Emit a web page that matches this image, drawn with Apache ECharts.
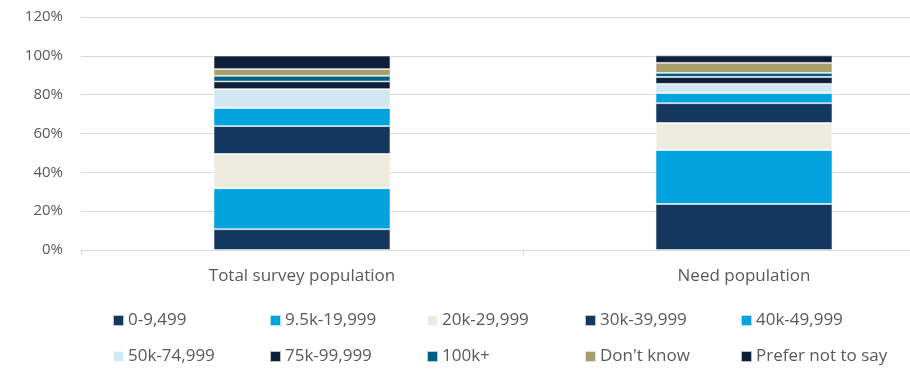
<!DOCTYPE html>
<html>
<head>
<meta charset="utf-8">
<script src="https://cdn.jsdelivr.net/npm/echarts@6/dist/echarts.min.js"></script>
<style>
  html, body { margin: 0; padding: 0; background: #fff; }
  #chart { width: 910px; height: 369px; }
</style>
</head>
<body>
<div id="chart"></div>
<script>
// Household income bands, share of respondents (%)
const categories = ['Total survey population', 'Need population'];
const bands = ['0-9,499', '9.5k-19,999', '20k-29,999', '30k-39,999', '40k-49,999',
               '50k-74,999', '75k-99,999', '100k+', "Don't know", 'Prefer not to say'];
const totalSurvey = [10.7, 21.1, 17.7, 14.3, 9.3, 9.8, 3.9, 2.9, 3.5, 6.9];
const needPopulation = [23.7, 27.8, 13.9, 10.2, 5.2, 4.8, 3.5, 2.1, 5.2, 3.8];
const yTicks = [0, 20, 40, 60, 80, 100, 120];

const colors = ['#14375e', '#00a3dd', '#edeae0', '#14375e', '#00a3dd',
                '#d3e7f3', '#0d1f3a', '#005f83', '#a79f6b', '#0d1f3a'];

const FONT = '"Open Sans", sans-serif';
const TEXT = '#595959';

const series = bands.map((name, i) => ({
  name,
  type: 'bar',
  stack: 'income',
  barWidth: '40%',
  data: [totalSurvey[i], needPopulation[i]],
  itemStyle: { color: colors[i], borderColor: 'rgba(255,255,255,0.7)', borderWidth: 0.8 }
}));

// legend laid out as a 5 x 2 grid
const colLeft = [112, 269, 426, 584, 740];
const rowTop = [312, 348];
const legends = bands.map((name, i) => ({
  data: [name],
  left: colLeft[i % 5],
  top: rowTop[Math.floor(i / 5)],
  itemWidth: 11,
  itemHeight: 11,
  itemGap: 0,
  icon: 'rect',
  padding: 0,
  selectedMode: false,
  textStyle: { fontFamily: FONT, fontSize: 17, color: TEXT, padding: [0, 0, 0, -1] }
}));

const chart = echarts.init(document.getElementById('chart'), null, { renderer: 'canvas' });
chart.setOption({
  animation: false,
  color: colors,
  // plot area runs past the right edge of the canvas
  grid: { left: 81, width: 884, top: 17, bottom: 119, containLabel: false, outerBoundsMode: 'none' },
  legend: legends,
  xAxis: {
    type: 'category',
    data: categories,
    axisLine: { lineStyle: { color: '#d9d9d9', width: 1 } },
    axisTick: { show: true, length: 5, lineStyle: { color: '#d9d9d9' } },
    axisLabel: { fontFamily: FONT, fontSize: 17, color: TEXT, margin: 18 }
  },
  yAxis: {
    type: 'value',
    min: yTicks[0],
    max: yTicks[yTicks.length - 1],
    interval: 20,
    axisLine: { show: false },
    axisTick: { show: false },
    splitLine: { lineStyle: { color: '#d9d9d9', width: 1 } },
    axisLabel: { fontFamily: FONT, fontSize: 15, color: TEXT, margin: 18, formatter: v => v + '%' }
  },
  series
});
</script>
</body>
</html>
